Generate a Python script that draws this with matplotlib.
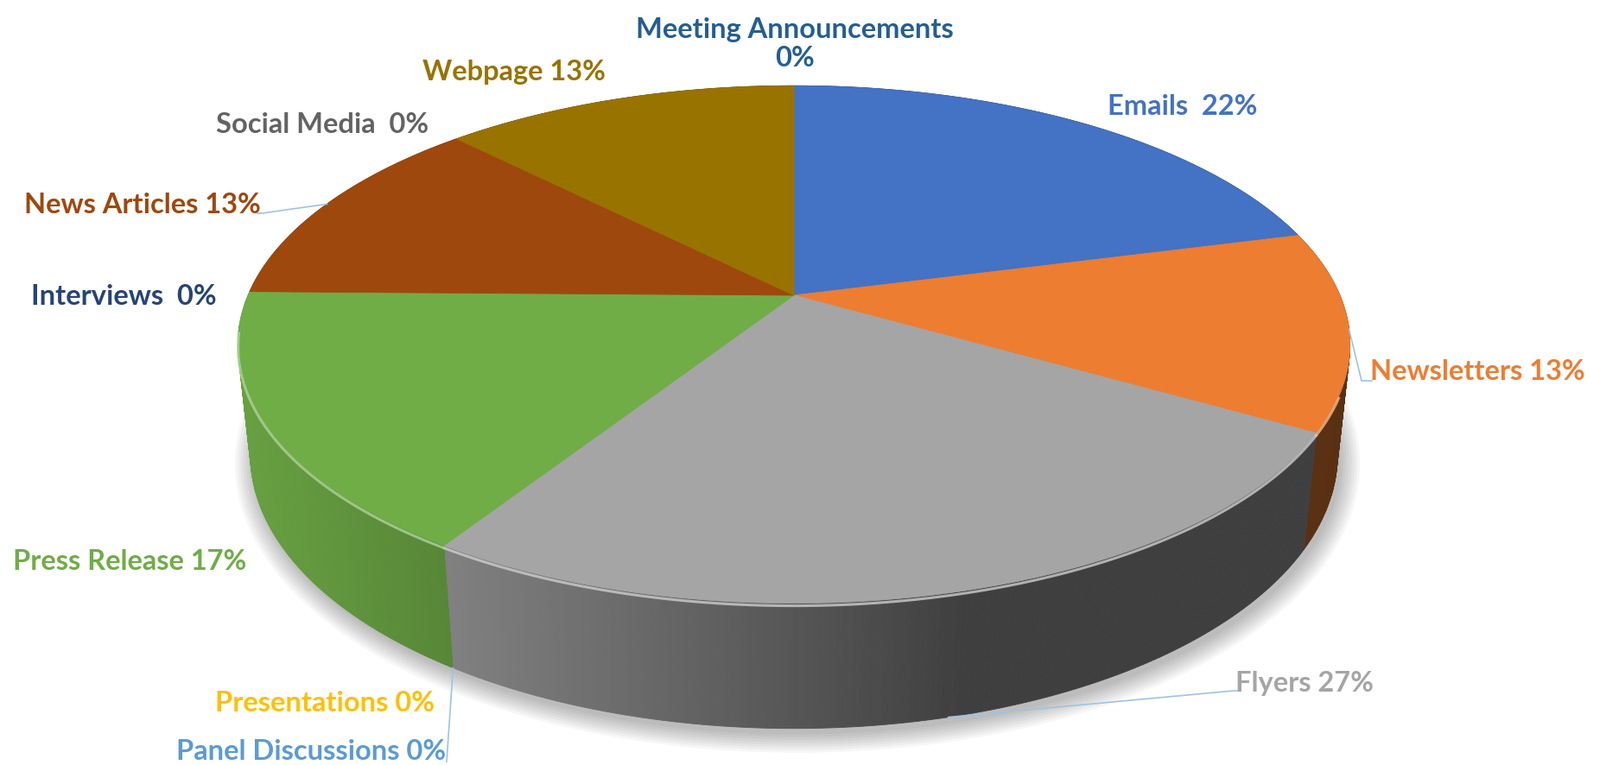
import numpy as np
import matplotlib
matplotlib.use('Agg')
import matplotlib.pyplot as plt
from matplotlib.patches import Polygon
from matplotlib.colors import to_rgb

# slices in Excel order: clockwise, starting at 12 o'clock
names = ['Emails', 'Newsletters', 'Flyers', 'Presentations', 'Panel Discussions',
         'Press Release', 'Interviews', 'News Articles', 'Social Media', 'Webpage',
         'Meeting Announcements']
values = [22, 13, 27, 0, 0, 17, 0, 13, 0, 13, 0]
colors = ['#4472C4', '#ED7D31', '#A5A5A5', '#FFC000', '#5B9BD5', '#70AD47',
          '#264478', '#9E480E', '#636363', '#997300', '#255E91']
label_texts = ['Emails  22%', 'Newsletters 13%', 'Flyers 27%', 'Presentations 0%',
               'Panel Discussions 0%', 'Press Release 17%', 'Interviews  0%',
               'News Articles 13%', 'Social Media  0%', 'Webpage 13%',
               'Meeting Announcements\n0%']

# label placement (pixel coords: centre x, baseline y) and leader lines
label_pos = [(1369, 133), (1710, 440), (1510, 801), (376, 824), (360, 880),
             (150, 660), (143, 353), (165, 247), (373, 154), (595, 93), (920, 77)]
# leader: (slice index, z on pie, end point of the line)
leaders = [(1, 0.0, [(1576, 442), (1588, 442)]),
           (2, -1.0, [(1428, 801), (1433, 801)]),
           (4, -1.0, [(517, 883)]),
           (7, 0.0, [(303, 248), (298, 248)])]

# simple perspective camera for the 3-d disc
CX, CY = 919, 343
K = 2957
R = 0.2137          # radius / camera distance
H = 0.229           # thickness / radius
PHI = np.radians(27.2)


def project(theta, z=0.0, rho=1.0):
    X = R * rho * np.sin(theta)
    Y = -R * rho * np.cos(theta)
    Z = R * H * z
    depth = 1 - (Y * np.cos(PHI) + Z * np.sin(PHI))
    v = -Y * np.sin(PHI) + Z * np.cos(PHI)
    return CX + K * X / depth, CY - K * v / depth


def shade(theta):
    return 0.38 + 0.54 * np.clip(np.cos(theta - np.radians(255)), 0, None)


vals = np.array(values, dtype=float)
bounds = np.concatenate([[0], np.cumsum(vals) / vals.sum() * 2 * np.pi])


def slice_at(theta):
    i = np.searchsorted(bounds, theta, side='right') - 1
    i = min(max(i, 0), len(vals) - 1)
    while vals[i] == 0:
        i -= 1
    return i


fig = plt.figure(figsize=(18.52, 8.87), dpi=100)
ax = fig.add_axes([0, 0, 1, 1])
ax.set_xlim(0, 1852)
ax.set_ylim(887, 0)
ax.axis('off')

# soft shadow under the disc
t = np.linspace(0, 2 * np.pi, 361)
bx, by = project(t, -1.0)
bcx, bcy = project(0, -1.0, rho=0)
for s in np.linspace(0.0, 0.035, 8):
    ax.add_patch(Polygon(np.column_stack([bcx + (bx - bcx) * (1 + s) + 4,
                                          bcy + (by - bcy) * (1 + s * 1.6) + 7]),
                         closed=True, fc='black', ec='none', alpha=0.035, zorder=1))

# side wall, far to near
step = np.radians(0.5)
segs = np.arange(0, 2 * np.pi, step)
order = np.argsort(np.cos(segs + step / 2))[::-1]
for j in order:
    a0, a1 = segs[j], segs[j] + step
    am = (a0 + a1) / 2
    c = np.array(to_rgb(colors[slice_at(am)])) * shade(am)
    x0, y0 = project(a0, 0)
    x1, y1 = project(a1, 0)
    x2, y2 = project(a1, -1)
    x3, y3 = project(a0, -1)
    ax.add_patch(Polygon([(x0, y0), (x1, y1), (x2, y2), (x3, y3)], closed=True,
                         fc=c, ec=c, lw=0.6, zorder=2))

# top face
cx0, cy0 = project(0, 0, rho=0)
for i, v in enumerate(values):
    if v == 0:
        continue
    tt = np.linspace(bounds[i], bounds[i + 1], 200)
    px, py = project(tt, 0)
    pts = np.vstack([[cx0, cy0], np.column_stack([px, py])])
    ax.add_patch(Polygon(pts, closed=True, fc=colors[i], ec=colors[i], lw=0.6,
                         zorder=3))

# bevel highlight on the front rim, tinted by slice colour
for i, v in enumerate(values):
    if v == 0:
        continue
    lo = max(bounds[i], np.radians(112))
    hi = min(bounds[i + 1], np.radians(262))
    if hi <= lo:
        continue
    tr = np.linspace(lo, hi, 120)
    rx, ry = project(tr, -0.02)
    c = np.array(to_rgb(colors[i])) * 0.55 + 0.45
    ax.plot(rx, ry, color=c, alpha=0.8, lw=2.2, zorder=4)

# leader lines
for i, z, pts in leaders:
    mid = (bounds[i] + bounds[i + 1]) / 2
    sx, sy = project(mid, z)
    xs = [sx] + [p[0] for p in pts]
    ys = [sy] + [p[1] for p in pts]
    ax.plot(xs, ys, color='#9DC3E6', lw=1.2, zorder=5)

# labels
for txt, (x, y), c in zip(label_texts, label_pos, colors):
    ax.text(x, y, txt, color=c, fontsize=23.5, fontweight='bold',
            family=['Lato', 'DejaVu Sans'], ha='center', va='baseline',
            linespacing=1.15, zorder=6)

fig.savefig('out.png', dpi=100)
